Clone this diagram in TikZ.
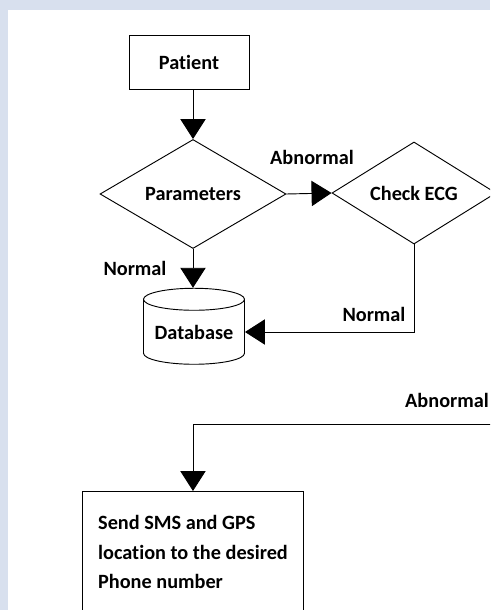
\documentclass[tikz,border=0pt]{standalone}
\usepackage{fontspec}
\setmainfont{Carlito}[Ligatures=NoCommon]
\usetikzlibrary{arrows.meta,shapes.geometric}
\definecolor{wmark}{RGB}{216,224,238}
\begin{document}
\begin{tikzpicture}[x=0.75pt,y=-0.75pt,
	every node/.style={font=\bfseries\fontsize{15.2}{22}\selectfont},
	box/.style={draw,rectangle,line width=0.7pt},
	decision/.style={draw,diamond,inner sep=0pt,line width=0.7pt},
	flow/.style={line width=0.7pt,-{Triangle[length=15pt,width=19pt]}}]
			\useasboundingbox (0,0) rectangle (490,610);
			\fill[white] (0,0) rectangle (490,610);
			\fill[wmark] (0,0) rectangle (490,10);
			\fill[wmark] (0,0) rectangle (8,610);
			\clip (0,0) rectangle (490,610);
			\node[box,minimum width=90pt,minimum height=40.5pt] (patient) at (189,62) {Patient};
			\node[decision,minimum width=139.5pt,minimum height=76.5pt] (param) at (193,194) {Parameters};
			\node[decision,minimum width=123pt,minimum height=72pt] (ecg) at (414,193) {Check ECG};
			\node[draw,cylinder,shape border rotate=90,aspect=0.28,inner sep=0pt,line width=0.7pt,
				minimum width=75.75pt,minimum height=57pt] (db) at (194,332) {Database};
			\node[box,anchor=north west,align=left,minimum width=165.75pt,inner ysep=18pt] (sms) at (82,491)
				{Send SMS and GPS\\location to the desired\\Phone number};
			\coordinate (abn) at (492,424);
			\draw[flow] (patient.south -| param.north) -- (param.north);
			\draw[flow] (param.east) -- (ecg.west);
			\draw[flow] (param.south) -- (param.south |- db.north);
			\draw[flow] (ecg.south) |- (db.east);
			\draw[flow] (abn) -| (sms.north);
			\node at (312,157) {Abnormal};
			\node at (135,268) {Normal};
			\node at (374,314) {Normal};
			\node at (447,400) {Abnormal};
		\end{tikzpicture}
\end{document}
